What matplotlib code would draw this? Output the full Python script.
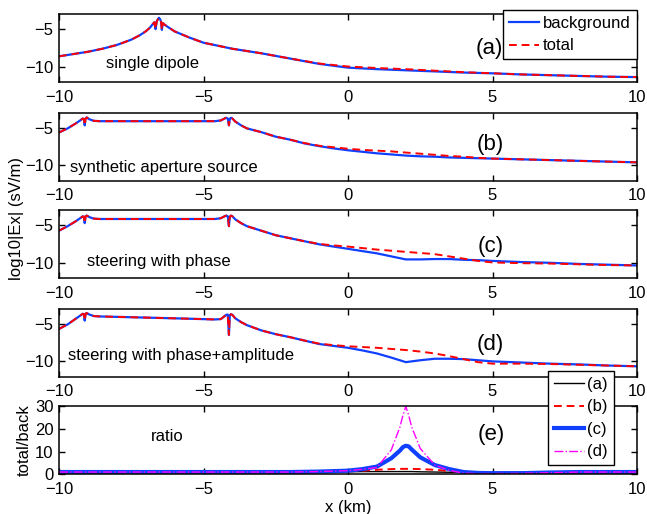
import matplotlib
matplotlib.use('Agg')
import matplotlib.pyplot as plt

plt.rcParams['font.family'] = ['Liberation Sans', 'DejaVu Sans']
plt.rcParams['font.size'] = 12

# panel (a) single dipole
xa = [-10, -9.5, -9, -8.5, -8, -7.5, -7.2, -7, -6.85, -6.75, -6.7, -6.66, -6.62, -6.58, -6.54, -6.5,
      -6.47, -6.44, -6.41, -6.35, -6.2, -6, -5.5, -5, -4.5, -4, -3, -2, -1, 0, 1, 2, 3, 4, 5, 6, 7, 8, 9, 10]
back_a = [-8.6, -8.3, -8.0, -7.6, -7.1, -6.4, -5.8, -5.3, -4.8, -4.3, -4.1, -5.0, -4.0, -3.7, -3.5, -3.7,
          -4.0, -5.1, -4.2, -4.4, -4.8, -5.3, -6.1, -6.8, -7.2, -7.6, -8.2, -8.9, -9.6, -10.1, -10.3, -10.45,
          -10.6, -10.75, -10.85, -11.0, -11.1, -11.2, -11.3, -11.35]
tot_a = [-8.6, -8.3, -8.0, -7.6, -7.1, -6.4, -5.8, -5.3, -4.8, -4.3, -4.1, -5.0, -4.0, -3.7, -3.5, -3.7,
         -4.0, -5.1, -4.2, -4.4, -4.8, -5.3, -6.1, -6.8, -7.2, -7.6, -8.2, -8.9, -9.55, -9.95, -10.15, -10.3,
         -10.5, -10.7, -10.85, -11.0, -11.1, -11.2, -11.3, -11.35]

# panels (b), (c), (d) share the same x samples
xs = [-10, -9.7, -9.4, -9.25, -9.18, -9.14, -9.11, -9.08, -9.04, -8.95, -8.8, -8.6, -6, -4.6, -4.4, -4.3,
      -4.22, -4.16, -4.12, -4.09, -4.05, -4.0, -3.9, -3.7, -3.5, -3, -2.5, -2, -1.5, -1, -0.5, 0, 0.5, 1,
      1.5, 2, 2.5, 3, 3.5, 4, 4.5, 5, 6, 7, 8, 9, 10]
back_b = [-5.65, -5.1, -4.4, -4.0, -3.8, -3.85, -4.7, -3.8, -3.65, -3.9, -4.1, -4.15, -4.15, -4.15, -4.05, -3.85,
          -3.7, -3.8, -4.7, -3.85, -3.7, -3.8, -4.2, -4.7, -5.1, -5.6, -6.2, -6.6, -7.1, -7.45, -7.75, -8.0, -8.2,
          -8.4, -8.55, -8.7, -8.8, -8.85, -8.95, -9.0, -9.05, -9.1, -9.2, -9.3, -9.4, -9.5, -9.6]
tot_b = [-5.65, -5.1, -4.4, -4.0, -3.8, -3.85, -4.7, -3.8, -3.65, -3.9, -4.1, -4.15, -4.15, -4.15, -4.05, -3.85,
         -3.7, -3.8, -4.7, -3.85, -3.7, -3.8, -4.2, -4.7, -5.1, -5.6, -6.2, -6.6, -7.05, -7.4, -7.6, -7.8, -7.95,
         -8.05, -8.15, -8.3, -8.45, -8.6, -8.75, -8.85, -9.0, -9.1, -9.2, -9.3, -9.4, -9.5, -9.6]
back_c = [-5.7, -5.1, -4.4, -4.0, -3.8, -3.85, -4.7, -3.8, -3.7, -3.9, -4.1, -4.15, -4.15, -4.15, -4.05, -3.85,
          -3.7, -3.8, -5.1, -3.85, -3.7, -3.8, -4.2, -4.7, -5.1, -5.7, -6.3, -6.7, -7.1, -7.5, -7.8, -8.1, -8.4,
          -8.7, -9.1, -9.5, -9.5, -9.45, -9.45, -9.55, -9.6, -9.7, -9.85, -9.95, -10.1, -10.2, -10.3]
tot_c = [-5.7, -5.1, -4.4, -4.0, -3.8, -3.85, -4.7, -3.8, -3.7, -3.9, -4.1, -4.15, -4.15, -4.15, -4.05, -3.85,
         -3.7, -3.8, -5.1, -3.85, -3.7, -3.8, -4.2, -4.7, -5.1, -5.7, -6.3, -6.7, -7.1, -7.45, -7.65, -7.8, -8.0,
         -8.2, -8.35, -8.5, -8.65, -8.8, -9.1, -9.4, -9.7, -9.9, -10.0, -10.05, -10.15, -10.25, -10.3]
back_d = [-5.7, -5.1, -4.3, -3.9, -3.7, -3.75, -4.6, -3.7, -3.6, -3.8, -4.0, -4.05, -4.3, -4.45, -4.4, -4.1,
          -3.85, -3.8, -6.5, -3.9, -3.75, -3.85, -4.3, -4.8, -5.2, -5.9, -6.4, -6.8, -7.25, -7.7, -7.95, -8.2, -8.55,
          -8.95, -9.5, -10.1, -9.85, -9.65, -9.65, -9.7, -9.85, -10.0, -10.15, -10.3, -10.4, -10.55, -10.65]
tot_d = [-5.7, -5.1, -4.3, -3.9, -3.7, -3.75, -4.6, -3.7, -3.6, -3.8, -4.0, -4.05, -4.3, -4.45, -4.4, -4.1,
         -3.85, -3.8, -6.5, -3.9, -3.75, -3.85, -4.3, -4.8, -5.2, -5.9, -6.4, -6.8, -7.25, -7.65, -7.85, -8.0, -8.1,
         -8.2, -8.35, -8.5, -8.7, -8.95, -9.3, -9.7, -10.1, -10.3, -10.3, -10.35, -10.45, -10.55, -10.65]

# panel (e) ratio total/back
xe = [-10, -5, -2, -1, 0, 0.5, 1, 1.5, 1.8, 1.9, 2, 2.1, 2.2, 2.5, 3, 3.5, 4, 4.5, 5, 6, 7, 8, 10]
ratio_a = [1, 1, 1, 1, 1.1, 1.2, 1.2, 1.2, 1.2, 1.2, 1.2, 1.2, 1.2, 1.1, 1.0, 0.9, 0.8, 0.8, 0.8, 0.9, 1, 1, 1]
ratio_b = [1, 1, 1, 1.1, 1.3, 1.6, 2.0, 2.3, 2.4, 2.4, 2.4, 2.4, 2.4, 2.3, 2.0, 1.5, 0.9, 0.6, 0.5, 0.6, 0.8, 1, 1]
ratio_c = [1, 1, 1, 1.2, 1.6, 2.3, 3.4, 7.1, 10.5, 12.0, 12.6, 12.3, 11.0, 7.5, 4.1, 2.3, 1.0, 0.6, 0.5, 0.5, 0.8, 1, 1]
ratio_d = [1, 1, 1, 1.2, 1.6, 2.2, 3.0, 10.8, 21, 26, 30, 26, 21, 11.4, 4.1, 1.8, 0.5, 0.3, 0.3, 0.4, 0.7, 1, 1]

panel_names = ['single dipole', 'synthetic aperture source', 'steering with phase',
               'steering with phase+amplitude']
panel_tags = ['(a)', '(b)', '(c)', '(d)']
name_pos = [(-8.37, -9.6), (-9.62, -10.3), (-9.04, -9.8), (-9.7, -9.2)]
tag_pos = [(4.4, -7.5), (4.45, -7.3), (4.5, -7.8), (4.45, -7.8)]

BLUE = '#1040ff'

fig = plt.figure(figsize=(6.47, 5.14), dpi=100)
left, width, height = 59 / 647, 578 / 647, 68 / 514
bottoms = [82, 180.5, 278.3, 376.5, 474.3]
axes = [fig.add_axes([left, 1 - b / 514, width, height]) for b in bottoms]

def style(ax):
    ax.set_xlim(-10, 10)
    ax.set_xticks([-10, -5, 0, 5, 10])
    ax.tick_params(direction='in', top=True, right=True, length=4, width=1, labelsize=12, pad=4)
    ax.tick_params(axis='x', pad=5.5)
    for sp in ax.spines.values():
        sp.set_linewidth(1.1)

series = [(xa, back_a, tot_a), (xs, back_b, tot_b), (xs, back_c, tot_c), (xs, back_d, tot_d)]
for i, (x, bk, tt) in enumerate(series):
    ax = axes[i]
    ax.plot(x, bk, color=BLUE, lw=1.6, label='background')
    ax.plot(x, tt, color='red', lw=1.4, dashes=(4, 2.5), label='total')
    ax.set_ylim(-12, -3)
    ax.set_yticks([-10, -5])
    style(ax)
    ax.text(name_pos[i][0], name_pos[i][1], panel_names[i], fontsize=12, va='center', ha='left')
    ax.text(tag_pos[i][0], tag_pos[i][1], panel_tags[i], fontsize=16, va='center', ha='left')

ax = axes[4]
la, = ax.plot(xe, ratio_a, color='black', lw=1.0)
lb, = ax.plot(xe, ratio_b, color='red', lw=1.4, dashes=(4, 2.5))
lc, = ax.plot(xe, ratio_c, color=BLUE, lw=3.0)
ld, = ax.plot(xe, ratio_d, color='magenta', lw=1.0, linestyle='-.')
ax.set_ylim(0, 30)
ax.set_yticks([0, 10, 20, 30])
style(ax)
ax.text(-6.83, 16.7, 'ratio', fontsize=12, va='center')
ax.text(4.5, 17.5, '(e)', fontsize=16, va='center')
ax.set_xlabel('x (km)', fontsize=12, labelpad=2)
ax.set_ylabel('total/back', fontsize=12, labelpad=2)

fig.text(0.025, 0.575, 'log10|Ex| (sV/m)', rotation=90, fontsize=12, ha='center', va='center')

h, l = axes[0].get_legend_handles_labels()
leg = fig.legend(h, l, loc='upper left', bbox_to_anchor=(503 / 647, 1 - 10 / 514), fontsize=12,
                 handlelength=1.8, handletextpad=0.25, borderpad=0.35, labelspacing=0.45,
                 borderaxespad=0, fancybox=False, framealpha=1, edgecolor='black')
leg.get_frame().set_linewidth(1.0)

leg2 = fig.legend([la, lb, lc, ld], ['(a)', '(b)', '(c)', '(d)'], loc='upper left',
                  bbox_to_anchor=(548 / 647, 1 - 371 / 514), fontsize=12, handlelength=1.8,
                  handletextpad=0.2, borderpad=0.35, labelspacing=0.45, borderaxespad=0,
                  fancybox=False, framealpha=1, edgecolor='black')
leg2.get_frame().set_linewidth(1.0)

plt.savefig('out.png', dpi=100)
